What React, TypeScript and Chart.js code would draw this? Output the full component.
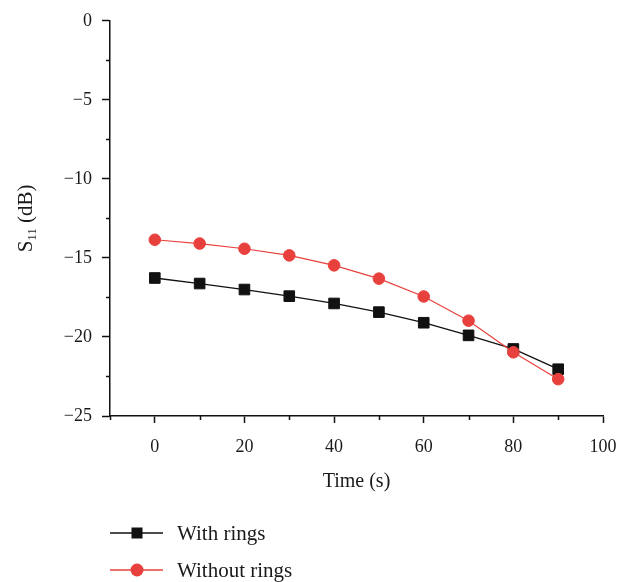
import React, { useEffect, useRef } from "react";
import { Chart, registerables } from "chart.js";

Chart.register(...registerables);

// ---- data ----
const timeS = [0, 10, 20, 30, 40, 50, 60, 70, 80, 90];
const withRings = [-16.27, -16.62, -17.0, -17.42, -17.88, -18.43, -19.1, -19.9, -20.76, -22.04];
const withoutRings = [-13.85, -14.09, -14.42, -14.84, -15.47, -16.31, -17.44, -18.97, -20.97, -22.67];
const seriesNames = ["With rings", "Without rings"];
const xMajorTicks = [0, 20, 40, 60, 80, 100];
const xMinorTicks = [-10, 10, 30, 50, 70, 90];
const yMajorTicks = [-25, -20, -15, -10, -5, 0];
const yMinorTicks = [-22.5, -17.5, -12.5, -7.5, -2.5];
const xTitle = "Time (s)";
const yTitleMain = "S";
const yTitleSub = "11";
const yTitleRest = " (dB)";

// ---- styles ----
const RED = "#e8413d";
const BLACK = "#111111";
const AXIS = "#111111";
const TEXT = "#1a1a1a";
const SERIF = "'Liberation Serif', 'Times New Roman', serif";

const minus = (v: number) => (v < 0 ? "\u2212" + Math.abs(v) : String(v));

const decorPlugin = {
  id: "decor",
  afterDraw(chart: any) {
    const ctx = chart.ctx as CanvasRenderingContext2D;
    const xs = chart.scales.x;
    const ys = chart.scales.y;
    const area = chart.chartArea;
    ctx.save();
    // minor ticks
    ctx.strokeStyle = AXIS;
    ctx.lineWidth = 1.5;
    ctx.beginPath();
    for (const v of xMinorTicks) {
      const px = Math.round(xs.getPixelForValue(v)) + 0.5;
      ctx.moveTo(px, area.bottom);
      ctx.lineTo(px, area.bottom + 4);
    }
    for (const v of yMinorTicks) {
      const py = Math.round(ys.getPixelForValue(v)) + 0.5;
      ctx.moveTo(area.left - 4, py);
      ctx.lineTo(area.left, py);
    }
    ctx.stroke();

    // x title
    ctx.fillStyle = TEXT;
    ctx.font = `20px ${SERIF}`;
    ctx.textAlign = "center";
    ctx.textBaseline = "middle";
    ctx.fillText(xTitle, (area.left + area.right) / 2, area.bottom + 66);

    // y title with subscript
    ctx.save();
    ctx.translate(25, (area.top + area.bottom) / 2);
    ctx.rotate(-Math.PI / 2);
    const mainFont = `21px ${SERIF}`;
    const subFont = `13px ${SERIF}`;
    ctx.font = mainFont;
    const wS = ctx.measureText(yTitleMain).width;
    const wR = ctx.measureText(yTitleRest).width;
    ctx.font = subFont;
    const wSub = ctx.measureText(yTitleSub).width;
    let x0 = -(wS + wSub + wR) / 2;
    ctx.textAlign = "left";
    ctx.textBaseline = "alphabetic";
    ctx.font = mainFont;
    ctx.fillText(yTitleMain, x0, 7);
    x0 += wS;
    ctx.font = subFont;
    ctx.fillText(yTitleSub, x0, 11);
    x0 += wSub;
    ctx.font = mainFont;
    ctx.fillText(yTitleRest, x0, 7);
    ctx.restore();

    // legend
    const colors = [BLACK, RED];
    for (let i = 0; i < seriesNames.length; i++) {
      const ly = 533 + i * 37;
      ctx.strokeStyle = colors[i];
      ctx.lineWidth = 1.3;
      ctx.beginPath();
      ctx.moveTo(110, ly);
      ctx.lineTo(163, ly);
      ctx.stroke();
      ctx.fillStyle = colors[i];
      if (i === 0) {
        ctx.fillRect(137 - 5.5, ly - 5.5, 11, 11);
      } else {
        ctx.beginPath();
        ctx.arc(137, ly, 6.5, 0, Math.PI * 2);
        ctx.fill();
      }
      ctx.fillStyle = TEXT;
      ctx.font = `21px ${SERIF}`;
      ctx.textAlign = "left";
      ctx.textBaseline = "middle";
      ctx.fillText(seriesNames[i], 177, ly + 1);
    }
    ctx.restore();
  },
};

export default function App() {
  const ref = useRef<HTMLCanvasElement | null>(null);
  useEffect(() => {
    document.body.style.margin = "0";
    document.body.style.overflow = "hidden";
    const canvas = ref.current;
    if (!canvas) return;
    const chart = new Chart(canvas, {
      type: "line",
      data: {
        datasets: [
          {
            label: seriesNames[0],
            data: timeS.map((x, i) => ({ x, y: withRings[i] })),
            borderColor: BLACK,
            backgroundColor: BLACK,
            pointBackgroundColor: BLACK,
            pointBorderColor: BLACK,
            borderWidth: 1.3,
            pointStyle: "rect",
            pointRadius: 7.5,
            pointBorderWidth: 1,
            tension: 0,
            order: 1,
          },
          {
            label: seriesNames[1],
            data: timeS.map((x, i) => ({ x, y: withoutRings[i] })),
            borderColor: RED,
            backgroundColor: RED,
            pointBackgroundColor: RED,
            pointBorderColor: RED,
            borderWidth: 1.2,
            pointStyle: "circle",
            pointRadius: 5.8,
            pointBorderWidth: 1,
            tension: 0,
            order: 0,
          },
        ],
      },
      options: {
        responsive: false,
        animation: false,
        layout: { padding: { top: 19, right: 29, left: 0, bottom: 0 } },
        plugins: {
          legend: { display: false },
          tooltip: { enabled: false },
          title: { display: false },
        },
        scales: {
          x: {
            type: "linear",
            min: -10,
            max: 100,
            afterBuildTicks: (scale: any) => {
              scale.ticks = xMajorTicks.map((v) => ({ value: v }));
            },
            afterFit: (scale: any) => {
              scale.height = 166;
            },
            border: { display: true, color: AXIS, width: 1.5 },
            grid: {
              display: true,
              drawOnChartArea: false,
              drawTicks: true,
              tickLength: 7,
              tickColor: AXIS,
              tickWidth: 1.5,
            },
            ticks: {
              color: TEXT,
              font: { family: SERIF, size: 18 },
              padding: 13,
              maxRotation: 0,
              callback: (v: any) => minus(Number(v)),
            },
          },
          y: {
            type: "linear",
            min: -25,
            max: 0,
            afterBuildTicks: (scale: any) => {
              scale.ticks = yMajorTicks.map((v) => ({ value: v }));
            },
            afterFit: (scale: any) => {
              scale.width = 110;
            },
            border: { display: true, color: AXIS, width: 1.5 },
            grid: {
              display: true,
              drawOnChartArea: false,
              drawTicks: true,
              tickLength: 8,
              tickColor: AXIS,
              tickWidth: 1.5,
            },
            ticks: {
              color: TEXT,
              font: { family: SERIF, size: 18 },
              padding: 10,
              callback: (v: any) => minus(Number(v)),
            },
          },
        },
      },
      plugins: [decorPlugin],
    } as any);
    return () => chart.destroy();
  }, []);
  return (
    <div style={{ width: 632, height: 582 }}>
      <canvas ref={ref} width={632} height={582} style={{ display: "block" }} />
    </div>
  );
}
